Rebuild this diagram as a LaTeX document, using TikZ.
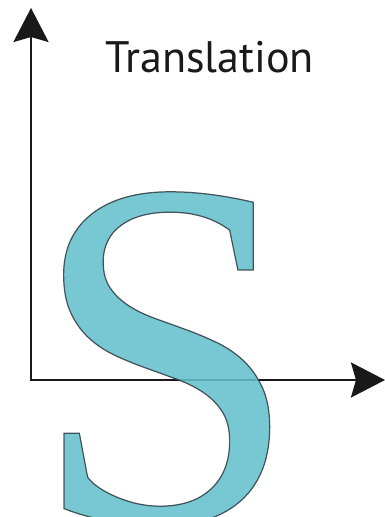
\documentclass[tikz,border=0pt]{standalone}
\usepackage{fontspec}
\setmainfont{Liberation Serif}
\newfontfamily\labelfont{PT Sans}
\usetikzlibrary{arrows.meta}
\definecolor{ink}{RGB}{25,25,25}
\definecolor{glyph}{RGB}{100,192,204}
% fill and stroke the glyph (text render mode 2)
\newcommand{\outlined}[1]{\special{pdf:literal direct 2 Tr 0.7 w 0.2 0.25 0.28 RG}#1\special{pdf:literal direct 0 Tr}}

\begin{document}
\begin{tikzpicture}[x=0.02cm,y=-0.02cm,
 axis/.style={draw=ink,line width=1.5pt,{Stealth[length=0.68cm,width=0.7cm,inset=0.1cm]}-{Stealth[length=0.68cm,width=0.7cm,inset=0.1cm]}},
 letter/.style={anchor=base west,inner sep=0pt,text=glyph,opacity=0.88,font=\fontsize{283}{283}\selectfont},
 title/.style={anchor=base west,inner sep=0pt,text=ink,font=\labelfont\fontsize{25.1}{28}\selectfont}]
 \useasboundingbox (0,0) rectangle (385,517);
 \coordinate (o) at (31,380);
 \coordinate (ytop) at (31,8);
 \coordinate (xend) at (385,380);
 \draw[axis] (ytop) -- (o) -- (xend);
 \node[letter] (S) at (31,521) {\scalebox{0.97}[1]{\outlined{S}}};
 \node[title] (name) at (105,72) {Translation};
\end{tikzpicture}
\end{document}
